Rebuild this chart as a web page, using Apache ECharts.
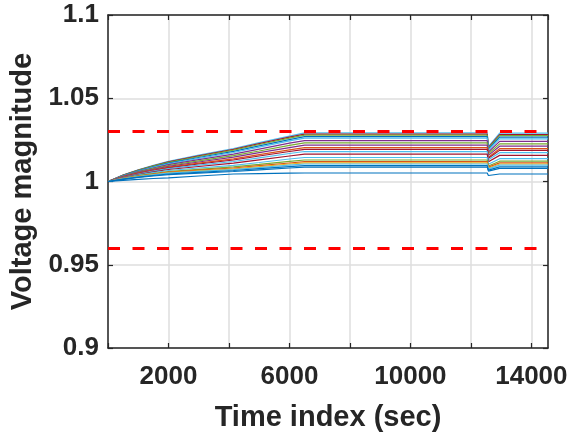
<!DOCTYPE html>
<html>
<head>
<meta charset="utf-8">
<script src="https://cdn.jsdelivr.net/npm/echarts@6/dist/echarts.min.js"></script>
<style>html,body{margin:0;padding:0;background:#fff}#c{width:585px;height:437px}</style>
</head>
<body>
<div id="c"></div>
<script>
// ---- data ----
var times = [0, 500, 1000, 1500, 2000, 3000, 4150, 5000, 6000, 6500, 9000, 12540, 12580, 12950, 14550];
var bus1  = [1, 1.0039, 1.0070, 1.0097, 1.0121, 1.0158, 1.0198, 1.0233, 1.0273, 1.0292, 1.0292, 1.0292, 1.0210, 1.0290, 1.0290];
var bus2  = [1, 1.0038, 1.0068, 1.0094, 1.0118, 1.0154, 1.0193, 1.0227, 1.0267, 1.0285, 1.0285, 1.0285, 1.0205, 1.0282, 1.0282];
var bus3  = [1, 1.0037, 1.0067, 1.0092, 1.0115, 1.0150, 1.0188, 1.0222, 1.0261, 1.0279, 1.0279, 1.0279, 1.0201, 1.0275, 1.0275];
var bus4  = [1, 1.0035, 1.0064, 1.0088, 1.0110, 1.0144, 1.0181, 1.0214, 1.0252, 1.0270, 1.0270, 1.0270, 1.0194, 1.0266, 1.0266];
var bus5  = [1, 1.0034, 1.0061, 1.0085, 1.0106, 1.0139, 1.0174, 1.0206, 1.0244, 1.0261, 1.0261, 1.0261, 1.0188, 1.0256, 1.0256];
var bus6  = [1, 1.0032, 1.0059, 1.0081, 1.0101, 1.0131, 1.0164, 1.0194, 1.0230, 1.0246, 1.0246, 1.0246, 1.0177, 1.0241, 1.0241];
var bus7  = [1, 1.0031, 1.0056, 1.0077, 1.0096, 1.0124, 1.0155, 1.0183, 1.0217, 1.0232, 1.0232, 1.0232, 1.0167, 1.0226, 1.0226];
var bus8  = [1, 1.0029, 1.0053, 1.0073, 1.0091, 1.0117, 1.0146, 1.0173, 1.0204, 1.0218, 1.0218, 1.0218, 1.0157, 1.0212, 1.0212];
var bus9  = [1, 1.0028, 1.0050, 1.0069, 1.0086, 1.0110, 1.0136, 1.0161, 1.0190, 1.0203, 1.0203, 1.0203, 1.0146, 1.0197, 1.0197];
var bus10 = [1, 1.0026, 1.0048, 1.0066, 1.0082, 1.0105, 1.0129, 1.0153, 1.0180, 1.0193, 1.0193, 1.0193, 1.0139, 1.0187, 1.0187];
var bus11 = [1, 1.0025, 1.0045, 1.0062, 1.0077, 1.0098, 1.0120, 1.0142, 1.0168, 1.0180, 1.0180, 1.0180, 1.0130, 1.0173, 1.0173];
var bus12 = [1, 1.0023, 1.0042, 1.0058, 1.0072, 1.0090, 1.0110, 1.0130, 1.0153, 1.0164, 1.0164, 1.0164, 1.0118, 1.0157, 1.0157];
var bus13 = [1, 1.0021, 1.0038, 1.0053, 1.0066, 1.0081, 1.0097, 1.0114, 1.0135, 1.0144, 1.0144, 1.0144, 1.0104, 1.0137, 1.0137];
var bus14 = [1, 1.0019, 1.0035, 1.0048, 1.0060, 1.0073, 1.0088, 1.0103, 1.0121, 1.0129, 1.0129, 1.0129, 1.0093, 1.0122, 1.0122];
var bus15 = [1, 1.0018, 1.0032, 1.0045, 1.0056, 1.0068, 1.0081, 1.0095, 1.0111, 1.0119, 1.0119, 1.0119, 1.0086, 1.0112, 1.0112];
var bus16 = [1, 1.0017, 1.0031, 1.0042, 1.0053, 1.0064, 1.0076, 1.0089, 1.0105, 1.0112, 1.0112, 1.0112, 1.0081, 1.0105, 1.0105];
var bus17 = [1, 1.0016, 1.0029, 1.0040, 1.0050, 1.0061, 1.0072, 1.0084, 1.0098, 1.0105, 1.0105, 1.0105, 1.0076, 1.0098, 1.0098];
var bus18 = [1, 1.0014, 1.0026, 1.0036, 1.0045, 1.0055, 1.0066, 1.0077, 1.0089, 1.0095, 1.0095, 1.0095, 1.0068, 1.0088, 1.0088];
var bus19 = [1, 1.0013, 1.0024, 1.0033, 1.0041, 1.0050, 1.0060, 1.0070, 1.0081, 1.0086, 1.0086, 1.0086, 1.0062, 1.0079, 1.0079];
var bus20 = [1, 1.0007, 1.0013, 1.0018, 1.0022, 1.0033, 1.0045, 1.0047, 1.0050, 1.0051, 1.0051, 1.0051, 1.0036, 1.0045, 1.0045];
var buses = [bus1, bus2, bus3, bus4, bus5, bus6, bus7, bus8, bus9, bus10,
             bus11, bus12, bus13, bus14, bus15, bus16, bus17, bus18, bus19, bus20];
var upperLimit = 1.03;
var lowerLimit = 0.96;
var xLabelTicks = [2000, 6000, 10000, 14000];
var xMax = 14550;
var yMin = 0.9, yMax = 1.1;

// ---- styles ----
var busColors = ['#4DBEEE', '#A2142F', '#77AC30', '#0072BD', '#4DBEEE', '#7E2F8E', '#77AC30',
                 '#7E2F8E', '#D95319', '#A2142F', '#4DBEEE', '#A2142F', '#4DBEEE', '#77AC30',
                 '#D95319', '#EDB120', '#4DBEEE', '#0072BD', '#0072BD', '#0072BD'];
var txt = '#262626';
var font = 'Liberation Sans, Arial, sans-serif';

var series = buses.map(function (vals, i) {
  return {
    type: 'line', symbol: 'none', silent: true,
    data: times.map(function (t, k) { return [t, vals[k]]; }),
    lineStyle: { width: 1.2, color: busColors[i] },
    z: 2
  };
});
series.push({
  type: 'line', data: [], silent: true,
  markLine: {
    symbol: 'none', silent: true, label: { show: false },
    lineStyle: { color: '#FF0000', width: 3, type: [12, 12.5] },
    data: [{ yAxis: upperLimit }, { yAxis: lowerLimit }]
  },
  z: 5
});

var chart = echarts.init(document.getElementById('c'));
chart.setOption({
  animation: false,
  backgroundColor: '#fff',
  grid: { left: 108, right: 37, top: 15, bottom: 81 },
  xAxis: [{
    type: 'value', min: 0, max: xMax, interval: 2000,
    name: 'Time index (sec)', nameLocation: 'middle', nameGap: 55,
    nameTextStyle: { fontFamily: font, fontWeight: 'bold', fontSize: 29, color: txt },
    axisLine: { show: true, lineStyle: { color: txt, width: 1.5 } },
    axisTick: { show: true, inside: true, length: 5, lineStyle: { color: txt, width: 1.2 } },
    axisLabel: {
      margin: 16, fontFamily: font, fontWeight: 'bold', fontSize: 26, color: txt,
      showMaxLabel: false,
      formatter: function (v) { return xLabelTicks.indexOf(v) >= 0 ? String(v) : ''; }
    },
    splitLine: { show: true, lineStyle: { color: '#dedede', width: 1.5 } }
  }, {
    type: 'value', position: 'top', min: 0, max: xMax, interval: 2000,
    axisLine: { show: true, onZero: false, lineStyle: { color: txt, width: 1.5 } },
    axisTick: { show: true, inside: true, length: 5, lineStyle: { color: txt, width: 1.2 } },
    axisLabel: { show: false }, splitLine: { show: false }
  }],
  yAxis: [{
    type: 'value', min: yMin, max: yMax, interval: 0.05,
    name: 'Voltage magnitude', nameLocation: 'middle', nameGap: 62,
    nameTextStyle: { fontFamily: font, fontWeight: 'bold', fontSize: 29, color: txt },
    axisLine: { show: true, lineStyle: { color: txt, width: 1.5 } },
    axisTick: { show: true, inside: true, length: 5, lineStyle: { color: txt, width: 1.2 } },
    axisLabel: { margin: 9, fontFamily: font, fontWeight: 'bold', fontSize: 26, color: txt },
    splitLine: { show: true, lineStyle: { color: '#dedede', width: 1.5 } }
  }, {
    type: 'value', position: 'right', min: yMin, max: yMax, interval: 0.05,
    axisLine: { show: true, onZero: false, lineStyle: { color: txt, width: 1.5 } },
    axisTick: { show: true, inside: true, length: 5, lineStyle: { color: txt, width: 1.2 } },
    axisLabel: { show: false }, splitLine: { show: false }
  }],
  series: series
});
</script>
</body>
</html>
